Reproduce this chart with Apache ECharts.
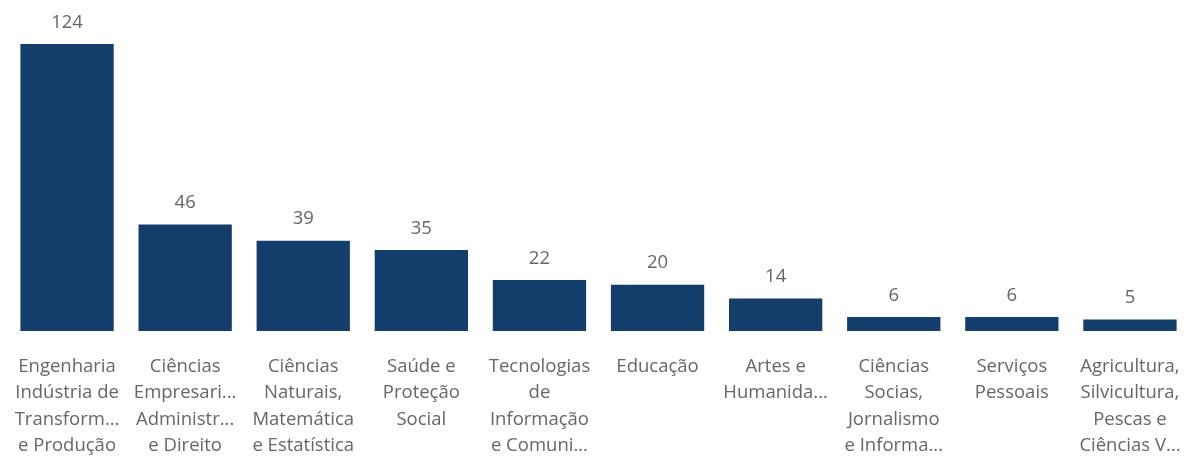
<!DOCTYPE html>
<html>
<head>
<meta charset="utf-8">
<script src="https://cdn.jsdelivr.net/npm/echarts@6/dist/echarts.min.js"></script>
<style>html,body{margin:0;padding:0;background:#fff}#c{width:1201px;height:459px}</style>
</head>
<body>
<div id="c"></div>
<script>
const categories = [
  "Engenharia\nIndústria de\nTransform...\ne Produção",
  "Ciências\nEmpresari...\nAdministr...\ne Direito",
  "Ciências\nNaturais,\nMatemática\ne Estatística",
  "Saúde e\nProteção\nSocial",
  "Tecnologias\nde\nInformação\ne Comuni...",
  "Educação",
  "Artes e\nHumanida...",
  "Ciências\nSocias,\nJornalismo\ne Informa...",
  "Serviços\nPessoais",
  "Agricultura,\nSilvicultura,\nPescas e\nCiências V..."
];
const values = [124, 46, 39, 35, 22, 20, 14, 6, 6, 5];

const FONT = '"Open Sans", "Noto Sans", sans-serif';
const chart = echarts.init(document.getElementById('c'), null, {renderer: 'canvas'});
chart.setOption({
  animation: false,
  textStyle: {fontFamily: FONT},
  grid: {left: 8, right: 12, top: 44, bottom: 124, containLabel: false},
  xAxis: {
    type: 'category',
    data: categories,
    axisLine: {show: false},
    axisTick: {show: false},
    axisLabel: {
      interval: 0,
      margin: 22,
      color: '#666666',
      fontSize: 18.5,
      lineHeight: 26.5,
      fontFamily: FONT
    }
  },
  yAxis: {
    type: 'value',
    min: 0,
    max: 124,
    show: false,
    splitLine: {show: false}
  },
  series: [{
    type: 'bar',
    data: values,
    barCategoryGap: '21%',
    itemStyle: {color: '#133E6B'},
    label: {
      show: true,
      position: 'top',
      distance: 12,
      color: '#666666',
      fontSize: 18.5,
      fontFamily: FONT
    }
  }]
});
</script>
</body>
</html>
